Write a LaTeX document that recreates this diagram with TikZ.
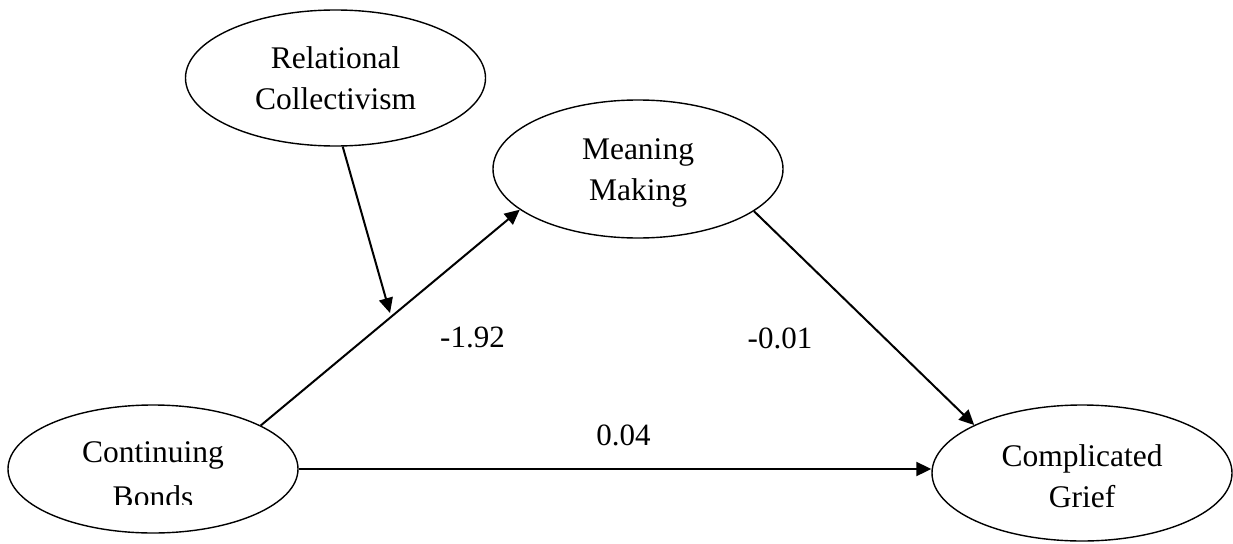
\documentclass[tikz,border=0pt]{standalone}
\usepackage{fontspec}
\setmainfont{Liberation Serif}
\usetikzlibrary{shapes.geometric,arrows.meta}
\begin{document}
\begin{tikzpicture}[x=1pt,y=-1pt,
  latent/.style={ellipse,draw,line width=1.4pt,inner sep=0pt},
  lbl/.style={inner sep=0pt,align=center,font=\fontsize{31.5}{41.5}\selectfont},
  path/.style={line width=2pt,-{Triangle[length=15pt,width=14pt]}},
  coef/.style={anchor=base,inner sep=0pt,font=\fontsize{31}{37}\selectfont}]
\useasboundingbox (0,0) rectangle (1233,543);
\node[latent,minimum width=300pt,minimum height=136pt] (rc) at (335.5,78) {};
\node[latent,minimum width=290pt,minimum height=138pt] (mm) at (638,169) {};
\node[latent,minimum width=290pt,minimum height=128pt] (cb) at (153,469) {};
\node[latent,minimum width=300pt,minimum height=136pt] (cg) at (1082,473) {};
\node[lbl] (rctext) at (335.5,78) {Relational\\Collectivism};
\node[lbl] (mmtext) at (638,173) {Meaning\\Making};
\node[lbl] (cgtext) at (1082,476) {Complicated\\Grief};
\begin{scope}
  \clip (0,0) rectangle (1233,504);
  \node[lbl,font=\fontsize{31.5}{45}\selectfont] (cbtext) at (153,475) {Continuing\\Bonds};
\end{scope}
\coordinate (mod) at (390,313);
\draw[path] (rc.-84) -- (mod);
\draw[path] (cb.22) -- (mm.199);
\draw[path] (mm.-20) -- (cg.156);
\draw[path] (cb.east) -- (cb.east -| cg.west);
\node[coef] (a) at (472.5,347) {-1.92};
\node[coef] (b) at (780,348) {-0.01};
\node[coef] (c) at (623.5,445) {0.04};
\end{tikzpicture}
\end{document}
